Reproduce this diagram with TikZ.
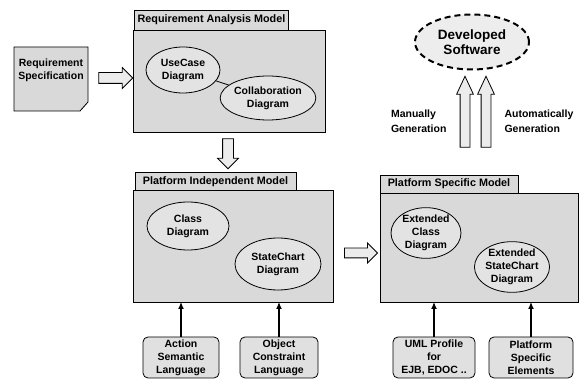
\documentclass[tikz,border=0pt]{standalone}
\usepackage{fontspec}
\setmainfont{Liberation Sans}
\usetikzlibrary{shapes.arrows,shapes.geometric,arrows.meta}

\tikzset{
  model/.style={draw, thick, fill=gray!30},
  tabbox/.style={draw, thick, fill=gray!30, font=\bfseries\fontsize{10.8}{12}\selectfont},
  diag/.style={draw, thick, ellipse, fill=gray!22, inner sep=0pt, align=center,
               font=\bfseries\fontsize{10.5}{13}\selectfont},
  extra/.style={draw, thick, rounded corners=5pt, fill=gray!24, align=center, inner sep=1pt,
                font=\bfseries\fontsize{10.5}{13}\selectfont},
  bigarrow/.style={draw, thick, single arrow, fill=gray!15, inner sep=0pt,
                   single arrow head extend=5pt},
  feed/.style={very thick, -{Latex[length=7pt,width=6pt]}},
  note/.style={align=left, font=\bfseries\fontsize{10.5}{15}\selectfont}
}
\newcommand{\shaft}[1]{\rule{0pt}{#1}}
\newcommand{\vshaft}[1]{\rule{#1}{0pt}}

\begin{document}
\begin{tikzpicture}[x=1pt,y=-1pt]
  \useasboundingbox (0,0) rectangle (587,382);

  % requirement specification document
  \filldraw[thick, fill=gray!30] (14,47) -- (88,47) -- (88,102) -- (80,111) -- (14,111) -- cycle;
  \node[align=center, font=\bfseries\fontsize{10.5}{13}\selectfont] (spec) at (51,70) {Requirement\\Specification};
  \node[bigarrow, minimum height=34pt] (a1) at (113,78) {\shaft{10pt}};

  % requirement analysis model
  \filldraw[model] (133,30) rectangle (325,132);
  \node[tabbox, minimum width=153pt, minimum height=20pt] (ramtab) at (211.5,20) {Requirement Analysis Model};
  \node[diag, minimum width=74pt, minimum height=46pt] (usecase) at (183,70) {UseCase\\Diagram};
  \node[diag, minimum width=84pt, minimum height=44pt] (collab) at (268,98) {Collaboration\\Diagram};
  \draw[thick] (usecase) -- (collab);

  \node[bigarrow, shape border rotate=270, minimum height=30pt] (a2) at (228,151) {\vshaft{10pt}};

  % platform independent model
  \filldraw[model] (133,190) rectangle (333,302);
  \node[tabbox, minimum width=161pt, minimum height=18pt] (pimtab) at (215.5,181.5) {Platform Independent Model};
  \node[diag, minimum width=82pt, minimum height=48pt] (class) at (188,226) {Class\\Diagram};
  \node[diag, minimum width=86pt, minimum height=52pt] (state) at (278,264) {StateChart\\Diagram};

  \node[extra, minimum width=76pt, minimum height=41pt] (asl) at (181,357.5) {Action\\Semantic\\Language};
  \node[extra, minimum width=78pt, minimum height=41pt] (ocl) at (279,357.5) {Object\\Constraint\\Language};
  \draw[feed] (asl.north) -- (asl.north |- 0,302);
  \draw[feed] (ocl.north) -- (ocl.north |- 0,302);

  \node[bigarrow, minimum height=33pt] (a3) at (358.5,253) {\shaft{9pt}};

  % platform specific model
  \filldraw[model] (380,193) rectangle (578,302);
  \node[tabbox, minimum width=138pt, minimum height=18pt] (psmtab) at (449,184) {Platform Specific Model};
  \node[diag, minimum width=70pt, minimum height=50pt] (eclass) at (426,233) {Extended\\Class\\Diagram};
  \node[diag, minimum width=68pt, minimum height=48pt] (estate) at (512,267) {Extended\\StateChart\\Diagram};

  \node[extra, minimum width=82pt, minimum height=41pt] (uml) at (434,357.5) {UML Profile\\for\\EJB, EDOC ..};
  \node[extra, minimum width=84pt, minimum height=41pt] (pse) at (531,357.5) {Platform\\Specific\\Elements};
  \draw[feed] (uml.north) -- (uml.north |- 0,302);
  \draw[feed] (pse.north) -- (pse.north |- 0,302);

  % developed software
  \node[draw, ellipse, line width=2pt, dash pattern=on 6pt off 4pt, fill=gray!14,
        minimum width=114pt, minimum height=55pt, align=center,
        font=\bfseries\fontsize{13.5}{15}\selectfont] (soft) at (472,42) {Developed\\Software};
  \node[bigarrow, shape border rotate=90, minimum height=71pt, single arrow head extend=3.5pt,
        single arrow tip angle=50] (a4) at (465,117) {\vshaft{9pt}};
  \node[bigarrow, shape border rotate=90, minimum height=71pt, single arrow head extend=3.5pt,
        single arrow tip angle=50] (a5) at (486,117) {\vshaft{9pt}};
  \node[note, anchor=east] (manual) at (450,121) {Manually\\Generation};
  \node[note, anchor=west] (auto) at (501,121) {Automatically\\Generation};
\end{tikzpicture}
\end{document}
